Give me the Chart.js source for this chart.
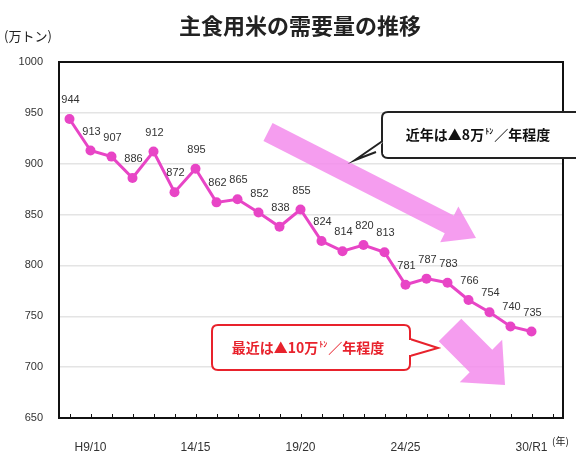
<!DOCTYPE html>
<html>
<head>
<meta charset="utf-8">
<script src="https://cdn.jsdelivr.net/npm/chart.js@4"></script>
<style>
  html, body { margin: 0; padding: 0; background: #fff; }
</style>
</head>
<body>
<canvas id="rice-demand" width="576" height="453"></canvas>
<script>
const YEARS = [
  "H8/9", "H9/10", "H10/11", "H11/12", "H12/13", "H13/14", "H14/15", "H15/16",
  "H16/17", "H17/18", "H18/19", "H19/20", "H20/21", "H21/22", "H22/23", "H23/24",
  "H24/25", "H25/26", "H26/27", "H27/28", "H28/29", "H29/30", "30/R1", "",
];
const DEMAND = [
  944, 913, 907, 886, 912, 872, 895, 862, 865, 852, 838, 855,
  824, 814, 820, 813, 781, 787, 783, 766, 754, 740, 735, null,
];
const SHOWN_TICKS = ["", "H9/10", "", "", "", "", "14/15", "", "", "", "", "19/20",
  "", "", "", "", "24/25", "", "", "", "", "", "30/R1", ""];
const Y_MIN = 650;
const Y_MAX = 1000;
const Y_STEP = 50;

const TITLE = "主食用米の需要量の推移";
const Y_UNIT = "(万トン)";
const X_UNIT = "(年)";

const LINE_COLOR = "#E845C6";
const ARROW_COLOR = "rgba(243, 140, 236, 0.85)";
const JP_FONT = "'Noto Sans CJK JP', 'Noto Sans', sans-serif";
const NUM_FONT = "'Liberation Sans Narrow', 'Liberation Sans', sans-serif";

const $ctx = document.getElementById("rice-demand");

function arrow(ctx, x1, y1, x2, y2, bodyW, headW, headL) {
  const a = Math.atan2(y2 - y1, x2 - x1);
  const len = Math.hypot(x2 - x1, y2 - y1);
  ctx.save();
  ctx.translate(x1, y1);
  ctx.rotate(a);
  ctx.beginPath();
  ctx.moveTo(0, -bodyW / 2);
  ctx.lineTo(len - headL, -bodyW / 2);
  ctx.lineTo(len - headL, -headW / 2);
  ctx.lineTo(len, 0);
  ctx.lineTo(len - headL, headW / 2);
  ctx.lineTo(len - headL, bodyW / 2);
  ctx.lineTo(0, bodyW / 2);
  ctx.closePath();
  ctx.fillStyle = ARROW_COLOR;
  ctx.fill();
  ctx.restore();
}

function roundRect(ctx, x, y, w, h, r) {
  ctx.beginPath();
  ctx.moveTo(x + r, y);
  ctx.lineTo(x + w - r, y);
  ctx.quadraticCurveTo(x + w, y, x + w, y + r);
  ctx.lineTo(x + w, y + h - r);
  ctx.quadraticCurveTo(x + w, y + h, x + w - r, y + h);
  ctx.lineTo(x + r, y + h);
  ctx.quadraticCurveTo(x, y + h, x, y + h - r);
  ctx.lineTo(x, y + r);
  ctx.quadraticCurveTo(x, y, x + r, y);
  ctx.closePath();
}

// text like "近年は▲8万ﾄﾝ／年程度" with the small ﾄﾝ raised
function calloutText(ctx, cx, cy, before, color) {
  const big = "bold 14px " + JP_FONT;
  const small = "bold 8px " + JP_FONT;
  const after = "／年程度";
  ctx.font = big;
  const w1 = ctx.measureText(before).width;
  const w3 = ctx.measureText(after).width;
  ctx.font = small;
  const w2 = ctx.measureText("ﾄﾝ").width + 2;
  let x = cx - (w1 + w2 + w3) / 2;
  ctx.fillStyle = color;
  ctx.textBaseline = "middle";
  ctx.textAlign = "left";
  ctx.font = big;
  ctx.fillText(before, x, cy);
  x += w1;
  ctx.font = small;
  ctx.fillText("ﾄﾝ", x + 1, cy - 4);
  x += w2;
  ctx.font = big;
  ctx.fillText(after, x, cy);
}

const decorations = {
  id: "decorations",
  beforeDatasetsDraw(chart) {
    const ctx = chart.ctx;
    // big arrows behind the line
    arrow(ctx, 268, 132, 476, 238, 20, 40, 30);
    arrow(ctx, 450, 330, 505, 385, 32, 60, 34);
  },
  afterDatasetsDraw(chart) {
    const ctx = chart.ctx;
    const area = chart.chartArea;
    const meta = chart.getDatasetMeta(0);

    // value labels
    ctx.save();
    ctx.font = "11px " + NUM_FONT;
    ctx.fillStyle = "#333";
    ctx.textAlign = "center";
    ctx.textBaseline = "middle";
    meta.data.forEach((pt, i) => {
      if (DEMAND[i] == null) return;
      ctx.fillText(String(DEMAND[i]), pt.x + 1, pt.y - 19);
    });
    ctx.restore();

    // frame
    ctx.save();
    ctx.strokeStyle = "#111";
    ctx.lineWidth = 2;
    ctx.strokeRect(area.left, area.top, area.right - area.left, area.bottom - area.top);
    // little upward ticks at each category
    ctx.lineWidth = 1;
    const xs = chart.scales.x;
    for (let i = 0; i < YEARS.length; i++) {
      const px = Math.round(xs.getPixelForValue(i)) + 0.5;
      ctx.beginPath();
      ctx.moveTo(px, area.bottom);
      ctx.lineTo(px, area.bottom - 4);
      ctx.stroke();
    }
    ctx.restore();

    // upper callout
    ctx.save();
    ctx.lineWidth = 2;
    ctx.strokeStyle = "#222";
    ctx.fillStyle = "#fff";
    roundRect(ctx, 382, 112, 200, 46, 6);
    ctx.fill();
    ctx.stroke();
    ctx.beginPath();
    ctx.moveTo(376, 152);
    ctx.lineTo(355, 160);
    ctx.lineTo(384, 140);
    ctx.fill();
    ctx.stroke();
    ctx.fillRect(383, 138, 4, 16);
    calloutText(ctx, 478, 135, "近年は▲8万", "#111");
    ctx.restore();

    // lower callout
    ctx.save();
    ctx.lineWidth = 2;
    ctx.strokeStyle = "#E8222C";
    ctx.fillStyle = "#fff";
    roundRect(ctx, 212, 325, 198, 45, 6);
    ctx.fill();
    ctx.stroke();
    ctx.beginPath();
    ctx.moveTo(410, 339);
    ctx.lineTo(438, 348);
    ctx.lineTo(410, 356);
    ctx.fill();
    ctx.stroke();
    ctx.fillRect(406, 340, 5, 15);
    calloutText(ctx, 308, 348, "最近は▲10万", "#E8222C");
    ctx.restore();
  },
  afterDraw(chart) {
    const ctx = chart.ctx;
    ctx.save();
    ctx.fillStyle = "#222";
    ctx.textBaseline = "middle";
    ctx.textAlign = "center";
    ctx.font = "bold 22px " + JP_FONT;
    ctx.fillText(TITLE, 300, 26);
    ctx.textAlign = "left";
    ctx.font = "13px " + JP_FONT;
    ctx.fillText(Y_UNIT, 4, 36);
    ctx.font = "10px " + JP_FONT;
    ctx.fillText(X_UNIT, 552, 441);
    ctx.restore();
  },
};

new Chart($ctx, {
  type: "line",
  data: {
    labels: YEARS,
    datasets: [
      {
        label: "需要量",
        data: DEMAND,
        borderColor: LINE_COLOR,
        backgroundColor: LINE_COLOR,
        borderWidth: 3,
        pointRadius: 5,
        pointBorderWidth: 0,
        pointBackgroundColor: LINE_COLOR,
        tension: 0,
      },
    ],
  },
  options: {
    responsive: false,
    animation: false,
    devicePixelRatio: 1,
    layout: { padding: { top: 62, right: 13, left: 0, bottom: 0 } },
    plugins: {
      legend: { display: false },
      title: { display: false },
      tooltip: { enabled: false },
    },
    scales: {
      x: {
        type: "category",
        offset: true,
        grid: { display: false },
        border: { display: false },
        ticks: {
          autoSkip: false,
          maxRotation: 0,
          padding: 14,
          color: "#333",
          font: { size: 12, family: NUM_FONT },
          callback: (val, i) => SHOWN_TICKS[i],
        },
        afterFit(scale) {
          scale.height = 35;
        },
      },
      y: {
        min: Y_MIN,
        max: Y_MAX,
        grid: {
          color: (c) => (c.tick.value === Y_MIN || c.tick.value === Y_MAX ? "rgba(0,0,0,0)" : "#e4e4e4"),
          lineWidth: 1.5,
          drawTicks: false,
        },
        border: { display: false },
        ticks: {
          stepSize: Y_STEP,
          padding: 16,
          color: "#333",
          font: { size: 11, family: NUM_FONT },
          callback: (v) => String(v),
        },
        afterFit(scale) {
          scale.width = 59;
        },
      },
    },
  },
  plugins: [decorations],
});
</script>
</body>
</html>
